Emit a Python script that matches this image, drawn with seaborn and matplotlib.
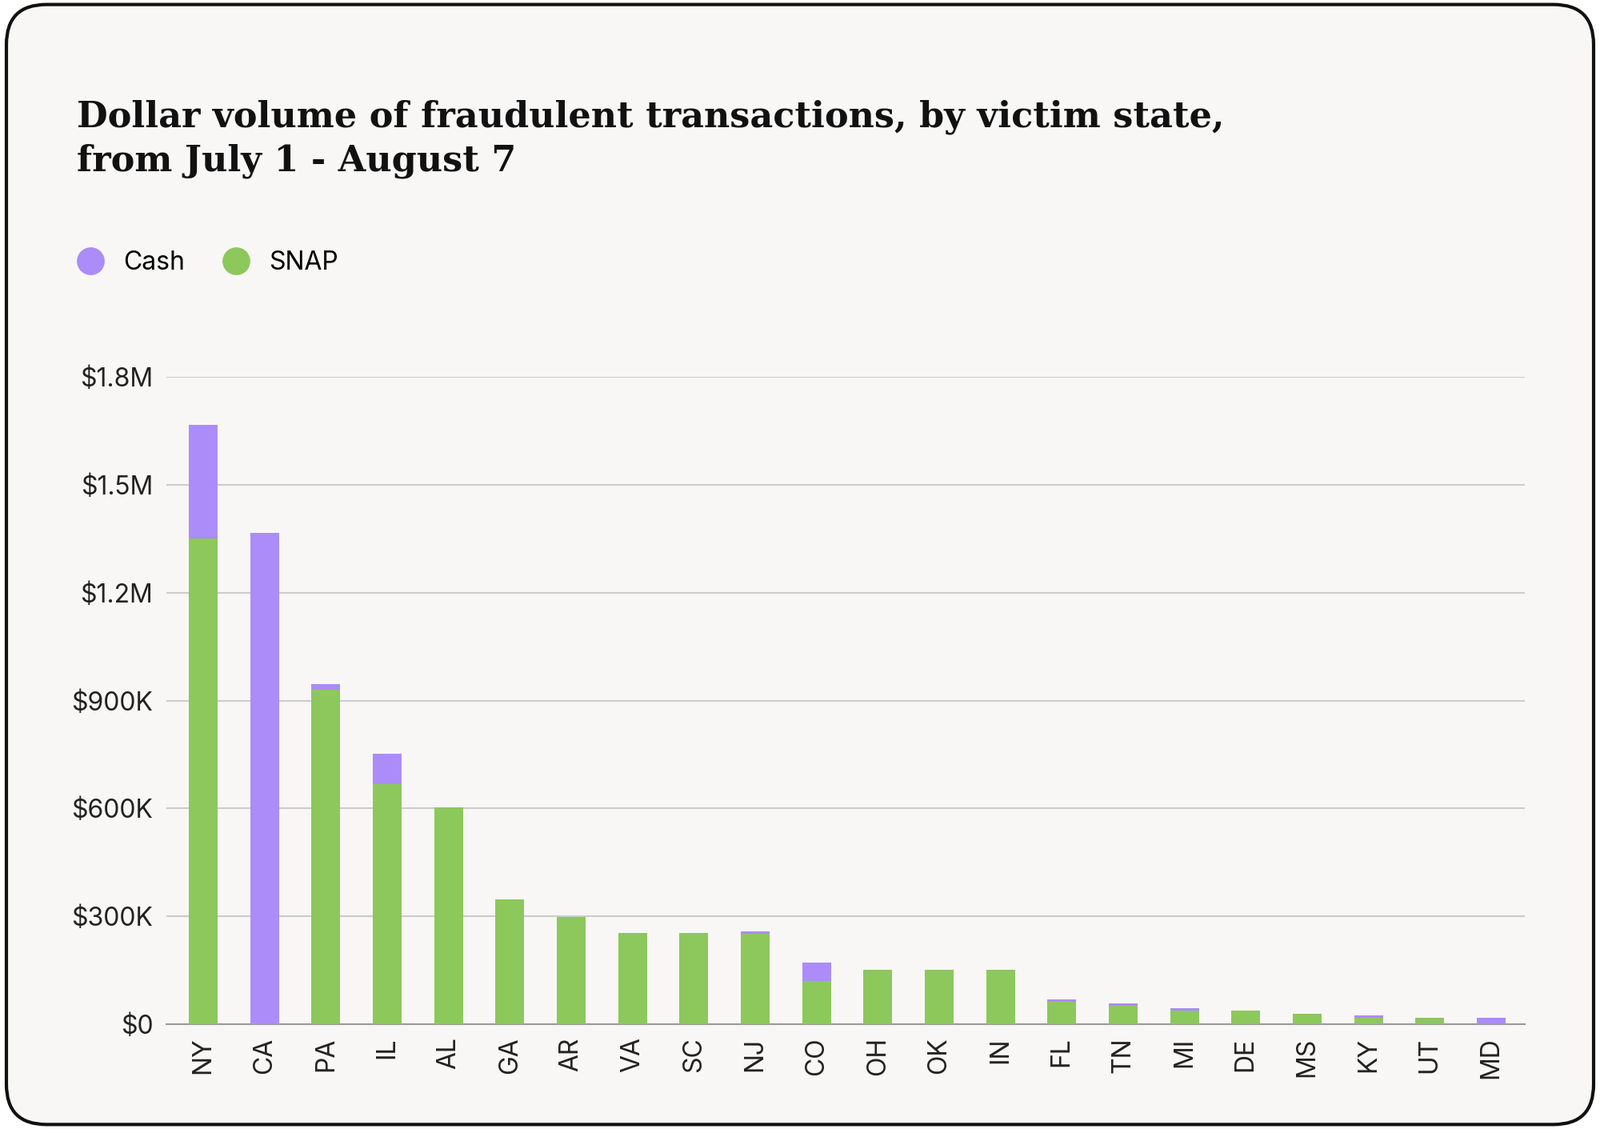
import matplotlib
matplotlib.use("Agg")
import matplotlib.pyplot as plt
from matplotlib.patches import FancyBboxPatch
from matplotlib.lines import Line2D
import seaborn as sns
import pandas as pd

states = ["NY","CA","PA","IL","AL","GA","AR","VA","SC","NJ","CO","OH","OK","IN","FL","TN","MI","DE","MS","KY","UT","MD"]
snap = [1351000,0,931000,667000,602000,346000,298000,253000,253000,250000,119000,150000,150000,150000,62000,51000,37000,37000,28000,17000,17000,0]
cash = [316000,1366000,14000,85000,0,0,0,0,0,8000,51000,0,0,0,6000,6000,6000,0,0,6000,0,17000]
yticks = [0,300000,600000,900000,1200000,1500000,1800000]
ytick_labels = ["$0","$300K","$600K","$900K","$1.2M","$1.5M","$1.8M"]

df = pd.DataFrame({"state": states, "snap": snap, "cash": cash})
df["total"] = df["snap"] + df["cash"]

purple = "#ab8cf8"
green = "#8cc85c"
bg = "#f8f7f5"

fig = plt.figure(figsize=(20, 14.11), dpi=100)
fig.patch.set_facecolor("white")
card = FancyBboxPatch((0.004, 0.004), 0.992, 0.992, boxstyle="round,pad=0,rounding_size=0.025",
                      transform=fig.transFigure, facecolor=bg, edgecolor="#111111", linewidth=3,
                      mutation_aspect=20/14.11, zorder=-10)
fig.patches.append(card)

ax = fig.add_axes([0.104, 0.093, 0.849, 0.573])
ax.set_zorder(5)
ax.set_facecolor(bg)
sns.barplot(data=df, x="state", y="total", color=purple, width=0.47, ax=ax, saturation=1, zorder=3)
sns.barplot(data=df, x="state", y="snap", color=green, width=0.47, ax=ax, saturation=1, zorder=4)
ax.set_ylim(0, 1800000)
ax.set_yticks(yticks)
ax.set_yticklabels(ytick_labels, fontsize=23, color="#222222", fontfamily="Inter")
ax.set_xticks(range(len(states)))
ax.set_xticklabels(states, rotation=90, fontsize=23, color="#222222", fontfamily="Inter")
ax.set_xlabel("")
ax.set_ylabel("")
ax.grid(axis="y", color="#cccccc", linewidth=1.5, zorder=0)
ax.set_axisbelow(True)
for s in ["top", "right", "left"]:
    ax.spines[s].set_visible(False)
ax.spines["bottom"].set_color("#999999")
ax.spines["bottom"].set_linewidth(1.5)
ax.tick_params(axis="both", length=0, pad=12)
ax.set_xlim(-0.6, len(states) - 0.45)

fig.text(0.048, 0.842, "Dollar volume of fraudulent transactions, by victim state,\nfrom July 1 - August 7",
         fontsize=32, fontweight="bold", fontfamily="DejaVu Serif", color="#111111",
         va="bottom", linespacing=1.35)

handles = [Line2D([0], [0], marker="o", linestyle="", markersize=24, markerfacecolor=purple, markeredgecolor=purple),
           Line2D([0], [0], marker="o", linestyle="", markersize=24, markerfacecolor=green, markeredgecolor=green)]
fig.legend(handles, ["Cash", "SNAP"], loc="center left", bbox_to_anchor=(0.026, 0.767), ncol=2, frameon=False,
           prop={"family": "Inter", "size": 23}, handletextpad=0.3, columnspacing=1.0)

fig.savefig("out.png", dpi=100, facecolor="white")
